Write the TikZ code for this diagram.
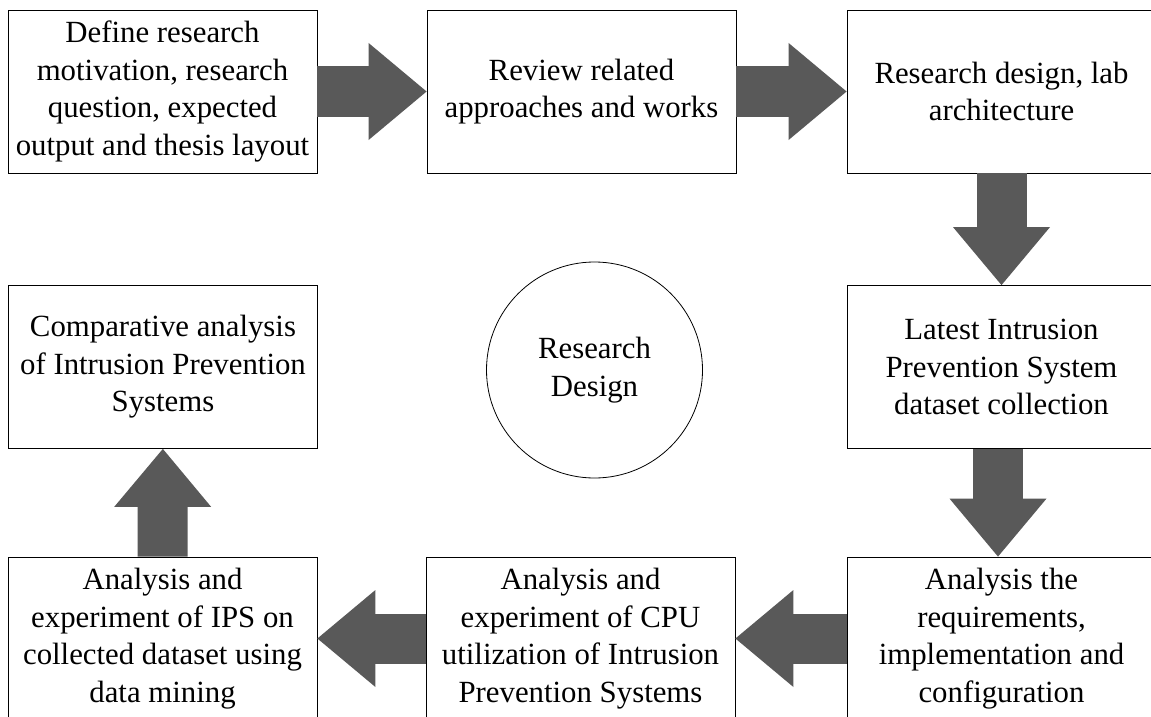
\documentclass[tikz,border=0pt]{standalone}
\usepackage{fontspec}
\setmainfont{Liberation Serif}
\usepackage{tikz}
\usetikzlibrary{arrows.meta}
\definecolor{arrowgray}{HTML}{595959}
\tikzset{>={Triangle[width=97pt,length=58pt,line width=0pt]}}
\tikzset{
  stepbox/.style={draw=black, line width=0.8pt, minimum width=309pt, minimum height=163pt,
    inner sep=0pt, align=center, font=\fontsize{30.8}{37.5}\selectfont},
  bigarrow/.style={->, draw=arrowgray, line width=50pt}
}

\begin{document}
\begin{tikzpicture}[x=1pt, y=-1pt]
    \useasboundingbox (0,0) rectangle (1151,717);
    \clip (0,0) rectangle (1151,717);
    \node[stepbox] (Motiv) at (162.5,91.5) {Define research\\motivation, research\\question, expected\\output and thesis layout};
    \node[stepbox] (Review) at (581.5,91.5) {Review related\\approaches and works};
    \node[stepbox] (Design) at (1001.5,91.5) {Research design, lab\\architecture};
    \node[stepbox] (Dataset) at (1001.5,367) {Latest Intrusion\\Prevention System\\dataset collection};
    \node[stepbox] (Req) at (1001.5,638.5) {Analysis the\\requirements,\\implementation and\\configuration};
    \node[stepbox] (CPU) at (580.5,638.5) {Analysis and\\experiment of CPU\\utilization of Intrusion\\Prevention Systems};
    \node[stepbox] (Mining) at (162.5,638.5) {Analysis and\\experiment of IPS on\\collected dataset using\\data mining};
    \node[stepbox] (Compare) at (163,367) {Comparative analysis\\of Intrusion Prevention\\Systems};
    \node[draw=black, line width=0.8pt, circle, minimum size=216pt, inner sep=0pt, align=center,
      font=\fontsize{30.8}{37.5}\selectfont] (Center) at (594.5,370) {Research\\Design};
    \draw[bigarrow] (Motiv) -- (Review);
    \draw[bigarrow] (Review) -- (Design);
    \draw[bigarrow] (Design) -- (Dataset);
    \draw[bigarrow] ([xshift=-3.5pt]Dataset.south) -- ([xshift=-3.5pt]Req.north);
    \draw[bigarrow] (Req) -- (CPU);
    \draw[bigarrow] (CPU) -- (Mining);
    \draw[bigarrow] (Mining) -- (Compare);
  \end{tikzpicture}
\end{document}
